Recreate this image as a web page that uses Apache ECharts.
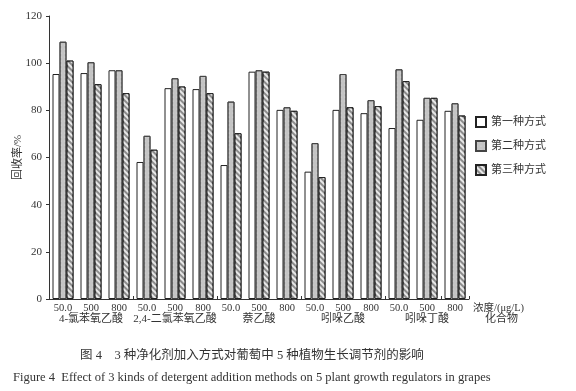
<!DOCTYPE html>
<html><head><meta charset="utf-8">
<script src="https://cdn.jsdelivr.net/npm/echarts@6/dist/echarts.min.js"></script>
<style>html,body{margin:0;padding:0;background:#fff}#c{width:576px;height:391px}</style>
</head><body><div id="c"></div>
<script>
const concentrations = ['50.0','500','800','50.0','500','800','50.0','500','800','50.0','500','800','50.0','500','800'];
const compounds = ['4-氯苯氧乙酸','2,4-二氯苯氧乙酸','萘乙酸','吲哚乙酸','吲哚丁酸'];
const seriesNames = ['第一种方式','第二种方式','第三种方式'];
const method1 = [95.4, 95.8, 97.0, 58.1, 89.4, 89.0, 56.8, 96.4, 80.2, 54.0, 80.2, 78.8, 72.5, 76.0, 79.8];
const method2 = [109.1, 100.4, 97.0, 69.2, 93.6, 94.6, 83.7, 97.0, 81.3, 66.1, 95.4, 84.3, 97.4, 85.3, 83.0];
const method3 = [101.1, 91.1, 87.3, 63.3, 90.1, 87.3, 70.3, 96.4, 79.8, 51.7, 81.3, 81.8, 92.4, 85.3, 77.8];
const yTicks = [0, 20, 40, 60, 80, 100, 120];

const serif = '"Liberation Serif","Times New Roman","Noto Sans CJK SC",serif';
const cjk = '"Liberation Serif","Noto Sans CJK SC",sans-serif';
const chart = echarts.init(document.getElementById('c'));
chart.setOption({
  animation: false,
  backgroundColor: '#fff',
  grid: {left: 49, right: 107, top: 16, bottom: 92, containLabel: false, outerBoundsMode: 'none'},
  legend: {
    orient: 'vertical', left: 470, top: 111, itemWidth: 10, itemHeight: 10, itemGap: 12,
    icon: 'rect',
    textStyle: {fontFamily: cjk, fontSize: 11, color: '#333'},
    data: seriesNames
  },
  xAxis: [{
    type: 'category', data: concentrations, gridIndex: 0,
    axisLine: {lineStyle: {color: '#333', width: 1}},
    axisTick: {show: true, interval: 2, inside: true, length: 3, lineStyle: {color: '#333'}},
    axisLabel: {interval: 0, margin: 4, fontFamily: serif, fontSize: 10.5, color: '#333'},
    name: '浓度/(μg/L)', nameLocation: 'end', nameGap: 4, nameMoveOverlap: false,
    nameTextStyle: {fontFamily: cjk, fontSize: 10.5, color: '#333', verticalAlign: 'top', padding: [4, 0, 0, 0]}
  }, {
    type: 'category', data: compounds, gridIndex: 0, position: 'bottom',
    axisLine: {show: false}, axisTick: {show: false},
    axisLabel: {interval: 0, margin: 15, fontFamily: cjk, fontSize: 11, color: '#333'},
    name: '化合物', nameLocation: 'end', nameGap: 16, nameMoveOverlap: false,
    nameTextStyle: {fontFamily: cjk, fontSize: 11, color: '#333', verticalAlign: 'top', padding: [15, 0, 0, 0]}
  }],
  yAxis: {
    type: 'value', min: yTicks[0], max: yTicks[yTicks.length - 1], interval: 20,
    axisLine: {show: true, lineStyle: {color: '#333'}},
    axisTick: {show: true, length: 3, lineStyle: {color: '#333'}},
    splitLine: {show: false},
    axisLabel: {margin: 7, fontFamily: serif, fontSize: 11, color: '#333'},
    name: '回收率/%', nameLocation: 'middle', nameGap: 25, nameMoveOverlap: false,
    nameTextStyle: {fontFamily: cjk, fontSize: 11, color: '#333'}
  },
  series: [{
    name: seriesNames[0], type: 'bar', data: method1, barGap: '0%', barCategoryGap: '25%',
    itemStyle: {color: '#ffffff', borderColor: '#222', borderWidth: 1}
  }, {
    name: seriesNames[1], type: 'bar', data: method2, barGap: '0%', barCategoryGap: '25%',
    itemStyle: {color: '#c4c4c4', borderColor: '#444', borderWidth: 1,
      decal: {symbol: 'circle', symbolSize: 0.6, dashArrayX: [[2, 2]], dashArrayY: [2, 2], color: 'rgba(255,255,255,0.55)', rotation: 0}}
  }, {
    name: seriesNames[2], type: 'bar', data: method3, barGap: '0%', barCategoryGap: '25%',
    itemStyle: {color: '#8c8c8c', borderColor: '#222', borderWidth: 1,
      decal: {symbol: 'rect', symbolSize: 1, dashArrayX: [1, 0], dashArrayY: [1.5, 2], color: 'rgba(255,255,255,0.8)', rotation: Math.PI / 4}}
  }],
  graphic: [{
    type: 'text', left: 80, top: 349,
    style: {text: '图 4　3 种净化剂加入方式对葡萄中 5 种植物生长调节剂的影响', font: '12.5px ' + cjk, fill: '#333'}
  }, {
    type: 'text', left: 13, top: 371,
    style: {text: 'Figure 4  Effect of 3 kinds of detergent addition methods on 5 plant growth regulators in grapes', font: '12.5px ' + serif, fill: '#333'}
  }]
});
</script></body></html>
